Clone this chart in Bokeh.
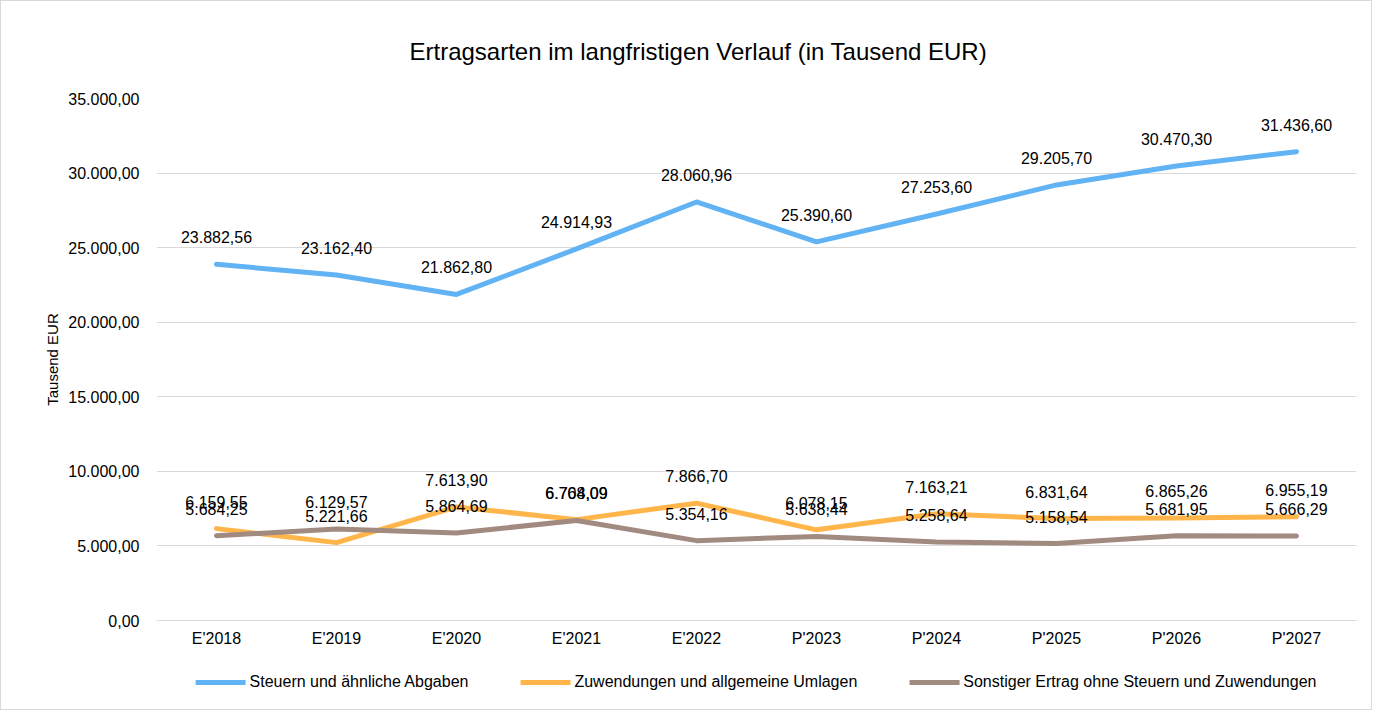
from bokeh.plotting import figure
from bokeh.layouts import column
from bokeh.models import ColumnDataSource, FactorRange, Range1d, FixedTicker, Legend, LegendItem, Title
from bokeh.embed import file_html
from bokeh.resources import INLINE
from bokeh.core.properties import value

categories = ["E'2018", "E'2019", "E'2020", "E'2021", "E'2022", "P'2023", "P'2024", "P'2025", "P'2026", "P'2027"]
steuern = [23882.56, 23162.40, 21862.80, 24914.93, 28060.96, 25390.60, 27253.60, 29205.70, 30470.30, 31436.60]
zuwendungen = [6159.55, 5221.66, 7613.90, 6764.09, 7866.70, 6078.15, 7163.21, 6831.64, 6865.26, 6955.19]
sonstige = [5684.25, 6129.57, 5864.69, 6708.09, 5354.16, 5638.44, 5258.64, 5158.54, 5681.95, 5666.29]
series_names = ["Steuern und ähnliche Abgaben", "Zuwendungen und allgemeine Umlagen",
                "Sonstiger Ertrag ohne Steuern und Zuwendungen"]
colors = ["#62B3F4", "#FFB54A", "#A18A80"]
y_ticks = [0, 5000, 10000, 15000, 20000, 25000, 30000, 35000]
y_tick_labels = ["0,00", "5.000,00", "10.000,00", "15.000,00", "20.000,00", "25.000,00", "30.000,00", "35.000,00"]


def de_fmt(v):
    s = f"{v:,.2f}"
    return s.replace(",", "X").replace(".", ",").replace("X", ".")


FONT = "Liberation Sans"

p = figure(x_range=FactorRange(*categories, range_padding=0), y_range=Range1d(0, 35000),
           width=1370, height=654, output_backend="svg", toolbar_location=None,
           min_border_left=155, min_border_right=15, min_border_top=93, min_border_bottom=35)
p.outline_line_color = None

t = Title(text="Ertragsarten im langfristigen Verlauf (in Tausend EUR)", align="left",
          text_font=FONT, text_font_size="24px", text_font_style="normal", text_color="#000000",
          offset=253, standoff=68)
p.add_layout(t, "above")

p.yaxis.ticker = FixedTicker(ticks=y_ticks)
p.yaxis.major_label_overrides = {t_: l for t_, l in zip(y_ticks, y_tick_labels)}
p.yaxis.axis_line_color = None
p.yaxis.major_tick_line_color = None
p.yaxis.minor_tick_line_color = None
p.yaxis.major_label_text_font = FONT
p.yaxis.major_label_text_font_size = "16px"
p.yaxis.major_label_text_color = "#000000"
p.yaxis.major_label_standoff = 11
p.yaxis.axis_label = "Tausend EUR"
p.yaxis.axis_label_text_font = FONT
p.yaxis.axis_label_text_font_size = "15px"
p.yaxis.axis_label_text_font_style = "normal"
p.yaxis.axis_label_text_color = "#000000"
p.yaxis.axis_label_standoff = 4

p.xaxis.axis_line_color = "#d9d9d9"
p.xaxis.axis_line_width = 1
p.xaxis.major_tick_line_color = None
p.xaxis.minor_tick_line_color = None
p.xaxis.major_label_text_font = FONT
p.xaxis.major_label_text_font_size = "16px"
p.xaxis.major_label_text_color = "#000000"
p.xaxis.major_label_standoff = 3

p.xgrid.grid_line_color = None
p.ygrid.grid_line_color = "#d9d9d9"
p.ygrid.grid_line_width = 1

for name, vals, col in zip(series_names, [steuern, zuwendungen, sonstige], colors):
    src = ColumnDataSource(dict(x=categories, y=vals, lbl=[de_fmt(v) for v in vals]))
    p.line("x", "y", source=src, line_color=col, line_width=5, line_cap="round", line_join="round")
    p.text("x", "y", text="lbl", source=src, text_align="center", text_baseline="middle",
           y_offset=-27, text_font=value(FONT), text_font_size="16px", text_color="#000000")

# legend strip below the chart
p2 = figure(x_range=Range1d(0, 1), y_range=Range1d(0, 1), width=1370, height=54,
            output_backend="svg", toolbar_location=None,
            min_border_left=0, min_border_right=0, min_border_top=0, min_border_bottom=0)
p2.axis.visible = False
p2.grid.grid_line_color = None
p2.outline_line_color = None
items = []
for name, col in zip(series_names, colors):
    r = p2.line(x=[float("nan")], y=[float("nan")], line_color=col, line_width=5, line_cap="round")
    items.append(LegendItem(label=name, renderers=[r]))
legend = Legend(items=items, orientation="horizontal", location="center",
                label_text_font=FONT, label_text_font_size="16px", label_text_color="#000000",
                glyph_width=50, glyph_height=6, label_standoff=4, spacing=52,
                border_line_color=None, background_fill_alpha=0, margin=0, padding=0)
p2.add_layout(legend, "center")

layout = column(p, p2, spacing=0)
layout.styles = {"border": "1px solid #d9d9d9"}
open("out.html", "w").write(file_html(layout, INLINE))
